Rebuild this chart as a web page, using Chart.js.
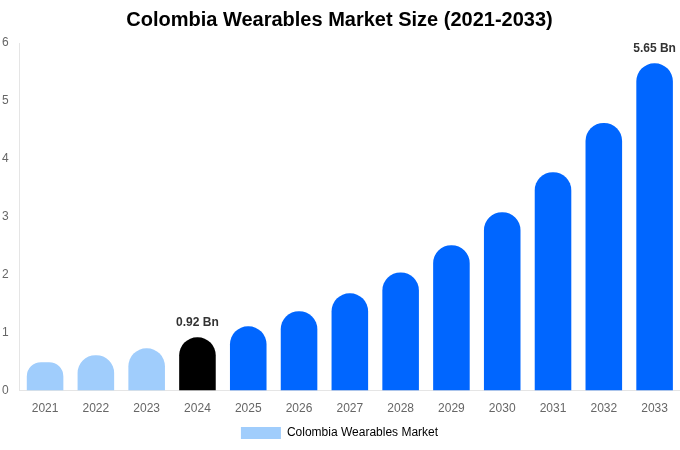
<!DOCTYPE html>
<html>
<head>
<meta charset="utf-8">
<script src="https://cdn.jsdelivr.net/npm/chart.js@4"></script>
<style>
  body { margin: 0; background: #fff; }
  #wrap { width: 680px; height: 450px; }
</style>
</head>
<body>
<div id="wrap"><canvas id="myChart"></canvas></div>
<script>
const years = ['2021', '2022', '2023', '2024', '2025', '2026', '2027', '2028', '2029', '2030', '2031', '2032', '2033'];
const marketSize = [0.49, 0.61, 0.73, 0.92, 1.11, 1.37, 1.68, 2.04, 2.51, 3.08, 3.77, 4.62, 5.65];
const labeledYears = ['2024', '2033'];
const yTicks = [0, 1, 2, 3, 4, 5, 6];

// cores: passado claro, ano base preto, projeção azul
const barColors = years.map(y => {
  if (+y < 2024) return '#a0cdfc';
  if (y === '2024') return '#000000';
  return '#0066ff';
});

// mostra o valor só em alguns anos
const valueLabelPlugin = {
  id: 'valueLabels',
  afterDatasetsDraw(chart) {
    const ctx = chart.ctx;
    const meta = chart.getDatasetMeta(0);
    ctx.save();
    ctx.font = 'bold 12px "Liberation Sans", Arial, sans-serif';
    ctx.fillStyle = '#333';
    ctx.textAlign = 'center';
    ctx.textBaseline = 'bottom';
    meta.data.forEach((bar, i) => {
      if (labeledYears.includes(years[i])) {
        ctx.fillText(marketSize[i].toFixed(2) + ' Bn', bar.x, bar.y - 9);
      }
    });
    ctx.restore();
  }
};

Chart.defaults.font.family = '"Liberation Sans", Arial, sans-serif';
Chart.defaults.color = '#666';

const ctx = document.getElementById('myChart').getContext('2d');
const myChart = new Chart(ctx, {
  type: 'bar',
  data: {
    labels: years,
    datasets: [{
      label: 'Colombia Wearables Market',
      data: marketSize,
      backgroundColor: barColors,
      borderRadius: 18,
      borderSkipped: 'start',
      categoryPercentage: 0.72,
      barPercentage: 1
    }]
  },
  options: {
    responsive: true,
    maintainAspectRatio: false,
    animation: false,
    layout: { padding: { left: -1, right: 0, top: 0, bottom: 1 } },
    plugins: {
      title: {
        display: true,
        text: 'Colombia Wearables Market Size (2021-2033)',
        color: '#000',
        font: { size: 20, weight: 'bold' },
        padding: { top: 8, bottom: 11 }
      },
      legend: {
        position: 'bottom',
        labels: {
          boxWidth: 40,
          boxHeight: 12,
          padding: 8,
          font: { size: 12 },
          generateLabels: () => [{
            text: 'Colombia Wearables Market',
            fillStyle: '#a0cdfc',
            strokeStyle: '#a0cdfc',
            lineWidth: 0,
            hidden: false,
            datasetIndex: 0
          }]
        }
      },
      tooltip: { enabled: false }
    },
    scales: {
      x: {
        grid: { display: false },
        border: { display: true, color: '#e5e5e5' },
        ticks: { font: { size: 12 }, padding: 3 }
      },
      y: {
        min: 0,
        max: 6,
        grid: { display: false },
        border: { display: true, color: '#e5e5e5' },
        afterBuildTicks: axis => { axis.ticks = yTicks.map(v => ({ value: v })); },
        ticks: { font: { size: 12 }, padding: 3 }
      }
    }
  },
  plugins: [valueLabelPlugin]
});
</script>
</body>
</html>
